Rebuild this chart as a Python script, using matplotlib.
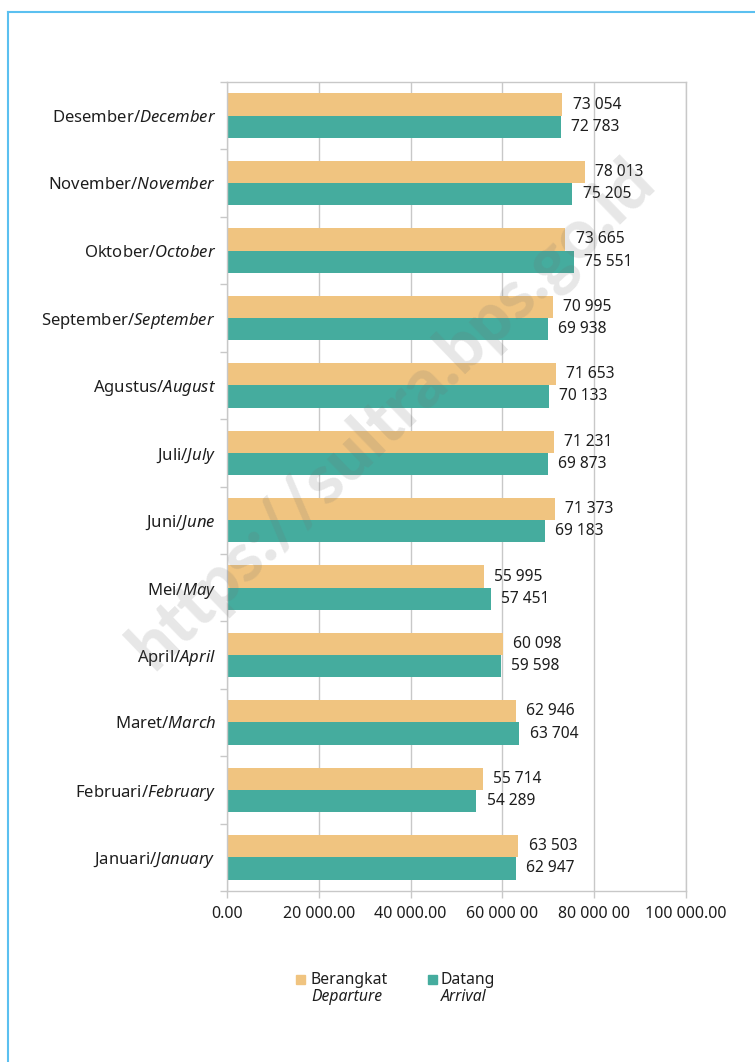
import numpy as np
import matplotlib
matplotlib.use("Agg")
import matplotlib.pyplot as plt
from matplotlib.lines import Line2D
from matplotlib.patches import Rectangle

FONT = "Noto Sans"
plt.rcParams['font.family'] = [FONT, 'DejaVu Sans']
plt.rcParams['mathtext.fontset'] = 'custom'
plt.rcParams['mathtext.rm'] = FONT
plt.rcParams['mathtext.it'] = FONT + ':italic'

# data, bottom to top as drawn
months_id = ["Januari", "Februari", "Maret", "April", "Mei", "Juni",
             "Juli", "Agustus", "September", "Oktober", "November", "Desember"]
months_en = ["January", "February", "March", "April", "May", "June",
             "July", "August", "September", "October", "November", "December"]
berangkat = [63503, 55714, 62946, 60098, 55995, 71373,
             71231, 71653, 70995, 73665, 78013, 73054]
datang = [62947, 54289, 63704, 59598, 57451, 69183,
          69873, 70133, 69938, 75551, 75205, 72783]
xticks = [0, 20000, 40000, 60000, 80000, 100000]
xtick_labels = ["0.00", "20 000.00", "40 000.00", "60 000 00", "80 000 00", "100 000.00"]

c_dep = "#f0c480"
c_arr = "#45ac9e"
grid_c = "#c8c8c8"
txt_c = "#1e1e1e"

fig = plt.figure(figsize=(7.55, 10.62), dpi=100)
ax = fig.add_axes([227 / 755, 1 - 891 / 1062, (686 - 227) / 755, (891 - 82) / 1062])

y = np.arange(len(months_id))
h = 0.33
ax.barh(y + h / 2, berangkat, height=h, color=c_dep, zorder=2)
ax.barh(y - h / 2, datang, height=h, color=c_arr, zorder=2)


def fmt(v):
    return f"{v:,}".replace(",", " ")


for yi, v in zip(y, berangkat):
    ax.annotate(fmt(v), (v, yi + h / 2), xytext=(7.5, 0), textcoords="offset points",
                va="center", ha="left", fontsize=11.2, color=txt_c)
for yi, v in zip(y, datang):
    ax.annotate(fmt(v), (v, yi - h / 2), xytext=(7.5, 0), textcoords="offset points",
                va="center", ha="left", fontsize=11.2, color=txt_c)

ax.set_xlim(0, 100000)
ax.set_ylim(-0.5, len(months_id) - 0.5)
ax.set_xticks(xticks)
ax.set_xticklabels(xtick_labels, fontsize=11.5, color=txt_c)
ax.grid(axis="x", color=grid_c, linewidth=1, zorder=0)

ax.set_yticks(y)
ax.set_yticklabels([f"{a}/$\\mathit{{{b}}}$" for a, b in zip(months_id, months_en)],
                   fontsize=12, color=txt_c)
ax.tick_params(axis="y", length=0, pad=8)
ax.set_yticks(np.arange(-0.5, len(months_id)), minor=True)
ax.tick_params(axis="y", which="minor", length=5, color=grid_c, width=1)
ax.tick_params(axis="x", length=5, color=grid_c, width=1, pad=6)
for s in ax.spines.values():
    s.set_color(grid_c)
    s.set_linewidth(1)

# watermark
fig.text(392 / 755, 1 - 415 / 1062, "https://sultra.bps.go.id", rotation=44,
         ha="center", va="center", fontsize=49, fontweight=900, family="Lato",
         color="#707070", alpha=0.17, zorder=5)

# legend drawn by hand
fig.patches.append(Rectangle((296 / 755, 1 - 984 / 1062), 9 / 755, 9 / 1062,
                             transform=fig.transFigure, color=c_dep))
fig.patches.append(Rectangle((428 / 755, 1 - 984 / 1062), 9 / 755, 9 / 1062,
                             transform=fig.transFigure, color=c_arr))
fig.text(311 / 755, 1 - 980 / 1062, "Berangkat", fontsize=11.3, va="center", color=txt_c)
fig.text(311 / 755, 1 - 997 / 1062, "Departure", fontsize=11.3, va="center",
         style="italic", color=txt_c)
fig.text(441 / 755, 1 - 980 / 1062, "Datang", fontsize=11.3, va="center", color=txt_c)
fig.text(441 / 755, 1 - 997 / 1062, "Arrival", fontsize=11.3, va="center",
         style="italic", color=txt_c)

# page frame
fc = "#5bc0f0"
fig.add_artist(Line2D([8 / 755, 8 / 755], [0, 1 - 12 / 1062], transform=fig.transFigure,
                      color=fc, linewidth=1.5))
fig.add_artist(Line2D([8 / 755, 1], [1 - 12 / 1062, 1 - 12 / 1062], transform=fig.transFigure,
                      color=fc, linewidth=1.5))

fig.savefig("out.png", dpi=100)
